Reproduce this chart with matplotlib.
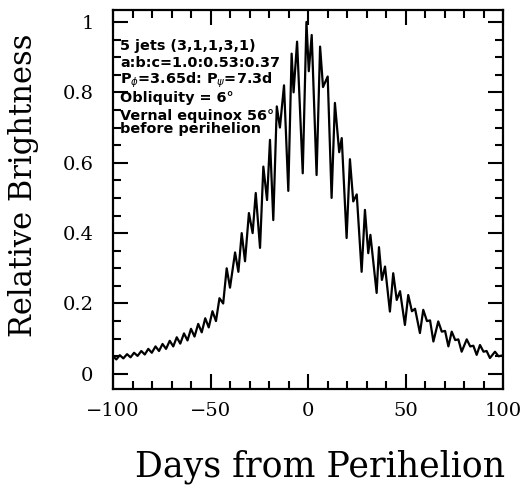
import matplotlib
matplotlib.use("Agg")
import matplotlib.pyplot as plt
from matplotlib.ticker import MultipleLocator, FixedLocator

# light curve (days from perihelion, relative brightness)
days = [
    -100.0, -98.3, -96.5, -94.7, -92.8, -91.0, -89.2, -87.4, -85.5, -83.7,
    -81.9, -80.1, -78.2, -76.4, -74.6, -72.8, -70.9, -69.1, -67.3, -65.5,
    -63.6, -61.8, -60.0, -58.2, -56.3, -54.5, -52.7, -50.9, -49.0, -47.2,
    -45.4, -43.5, -41.7, -40.0, -37.4, -35.7, -34.0, -32.3, -30.3, -28.4,
    -26.8, -24.6, -22.9, -21.0, -19.5, -17.8, -16.0, -14.4, -12.3, -10.1,
    -8.4, -7.4, -5.6, -2.7, -0.8, 0.4, 1.9, 4.4, 6.2, 7.7,
    10.1, 12.1, 13.8, 16.0, 17.3, 19.8, 21.5, 23.2, 25.0, 27.5,
    29.2, 30.9, 32.0, 35.2, 36.4, 37.9, 39.5, 42.0, 43.7, 45.5,
    47.2, 49.7, 51.4, 53.3, 54.9, 57.4, 59.1, 61.0, 62.6, 64.3,
    66.8, 68.6, 70.3, 72.0, 73.7, 75.5, 77.1, 78.8, 81.4, 83.2,
    84.8, 86.5, 88.2, 90.0, 91.6, 93.3, 95.9, 97.7, 99.3, 100.0,
]
brightness = [
    0.050, 0.041, 0.053, 0.044, 0.056, 0.047, 0.060, 0.051, 0.065, 0.055,
    0.071, 0.060, 0.078, 0.065, 0.085, 0.071, 0.094, 0.078, 0.104, 0.086,
    0.115, 0.095, 0.128, 0.106, 0.142, 0.118, 0.158, 0.132, 0.178, 0.150,
    0.215, 0.200, 0.300, 0.245, 0.345, 0.290, 0.400, 0.320, 0.457, 0.400,
    0.514, 0.358, 0.589, 0.494, 0.665, 0.437, 0.760, 0.700, 0.820, 0.520,
    0.910, 0.800, 0.944, 0.570, 1.000, 0.860, 0.963, 0.565, 0.930, 0.815,
    0.845, 0.500, 0.770, 0.630, 0.670, 0.386, 0.610, 0.490, 0.510, 0.290,
    0.466, 0.343, 0.395, 0.230, 0.360, 0.267, 0.305, 0.177, 0.286, 0.210,
    0.235, 0.139, 0.224, 0.178, 0.185, 0.116, 0.182, 0.150, 0.152, 0.092,
    0.149, 0.120, 0.122, 0.078, 0.120, 0.096, 0.098, 0.063, 0.098, 0.078,
    0.080, 0.054, 0.082, 0.063, 0.065, 0.045, 0.063, 0.050, 0.052, 0.050,
]

x_ticks = [-100, -50, 0, 50, 100]
x_labels = ["\u2212100", "\u221250", "0", "50", "100"]
y_ticks = [0, 0.2, 0.4, 0.6, 0.8, 1.0]
y_labels = ["0", "0.2", "0.4", "0.6", "0.8", "1"]

notes = [
    "5 jets (3,1,1,3,1)",
    "a:b:c=1.0:0.53:0.37",
    r"P$_\phi$=3.65d: P$_\psi$=7.3d",
    "Obliquity = 6\u00b0",
    "Vernal equinox 56\u00b0\nbefore perihelion",
]
note_y = [0.904, 0.860, 0.815, 0.768, 0.740]

fig = plt.figure(figsize=(5.26, 4.90), dpi=100)
ax = fig.add_axes([113 / 526, 1 - 389 / 490, 390 / 526, 379 / 490])

ax.plot(days, brightness, color="black", lw=1.6)

ax.set_xlim(-100, 100)
ax.set_ylim(-0.043, 1.034)

ax.xaxis.set_major_locator(FixedLocator(x_ticks))
ax.set_xticklabels(x_labels)
ax.xaxis.set_minor_locator(MultipleLocator(10))
ax.yaxis.set_major_locator(FixedLocator(y_ticks))
ax.set_yticklabels(y_labels)
ax.yaxis.set_minor_locator(MultipleLocator(0.05))

ax.tick_params(which="both", direction="in", top=True, right=True, width=1.5, color="black")
ax.tick_params(which="major", length=11, labelsize=14)
ax.tick_params(axis="y", which="major", pad=14)
ax.tick_params(axis="x", which="major", pad=9)
ax.tick_params(which="minor", length=5.5)
for lab in ax.get_xticklabels() + ax.get_yticklabels():
    lab.set_family("DejaVu Serif")

for sp in ax.spines.values():
    sp.set_linewidth(1.6)

for txt, yy in zip(notes, note_y):
    ax.text(0.018, yy, txt, transform=ax.transAxes, ha="left", va="top" if "\n" in txt else "center",
            fontsize=10.4, fontweight="bold", family="DejaVu Sans", linespacing=0.95)

fig.text(24 / 526, 1 - 185 / 490, "Relative Brightness", rotation=90,
         ha="center", va="center", fontsize=22, family="DejaVu Serif")
fig.text(320 / 526, 1 - 467 / 490, "Days from Perihelion",
         ha="center", va="center", fontsize=25, family="DejaVu Serif")

fig.savefig("out.png", dpi=100)
